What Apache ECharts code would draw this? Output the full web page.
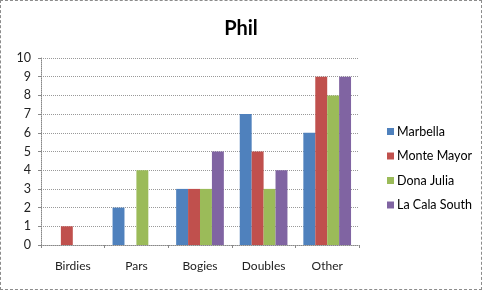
<!DOCTYPE html>
<html><head><meta charset="utf-8">
<script src="https://cdn.jsdelivr.net/npm/echarts@6/dist/echarts.min.js"></script>
<style>html,body{margin:0;padding:0;background:#fff}#c{width:482px;height:290px;box-sizing:border-box;border:1px dashed #8c8c8c}</style>
</head><body><div id="c"></div>
<script>
const categories = ['Birdies','Pars','Bogies','Doubles','Other'];
const marbella = [0,2,3,7,6];
const monteMayor = [1,0,3,5,9];
const donaJulia = [0,4,3,3,8];
const laCalaSouth = [0,0,5,4,9];
const seriesNames = ['Marbella','Monte Mayor','Dona Julia','La Cala South'];
const colors = ['#4F81BD','#C0504D','#9BBB59','#8064A2'];
const data = [marbella, monteMayor, donaJulia, laCalaSouth];
const font = 'Lato, "Open Sans", sans-serif';
const chart = echarts.init(document.getElementById('c'), null, {renderer:'canvas'});
chart.setOption({
  animation:false,
  title:{text:'Phil',left:'center',top:13,textStyle:{fontFamily:font,fontSize:20,fontWeight:'bold',color:'#000'}},
  legend:{orient:'vertical',left:381,top:119,itemWidth:7,itemHeight:7,itemGap:11.5,icon:'rect',
    textStyle:{fontFamily:font,fontSize:12.5,color:'#000',padding:[0,0,0,-2]},data:seriesNames},
  grid:{left:40,right:122,top:57,bottom:44,containLabel:false},
  xAxis:{type:'category',data:categories,
    axisLine:{lineStyle:{color:'#888',type:'dotted'}},
    axisTick:{show:true,length:3,lineStyle:{color:'#888'}},
    axisLabel:{fontFamily:font,fontSize:12,color:'#222',margin:15}},
  yAxis:{type:'value',min:0,max:10,interval:1,
    axisLine:{show:true,lineStyle:{color:'#888',type:'dotted'}},
    axisTick:{show:true,length:3,lineStyle:{color:'#888'}},
    splitLine:{lineStyle:{color:'#999',type:'dotted'}},
    axisLabel:{fontFamily:font,fontSize:12.5,color:'#222',margin:10}},
  series: seriesNames.map((n,i)=>({name:n,type:'bar',data:data[i],barGap:'0%',barCategoryGap:'25%',
    itemStyle:{color:colors[i]}}))
});
</script></body></html>
